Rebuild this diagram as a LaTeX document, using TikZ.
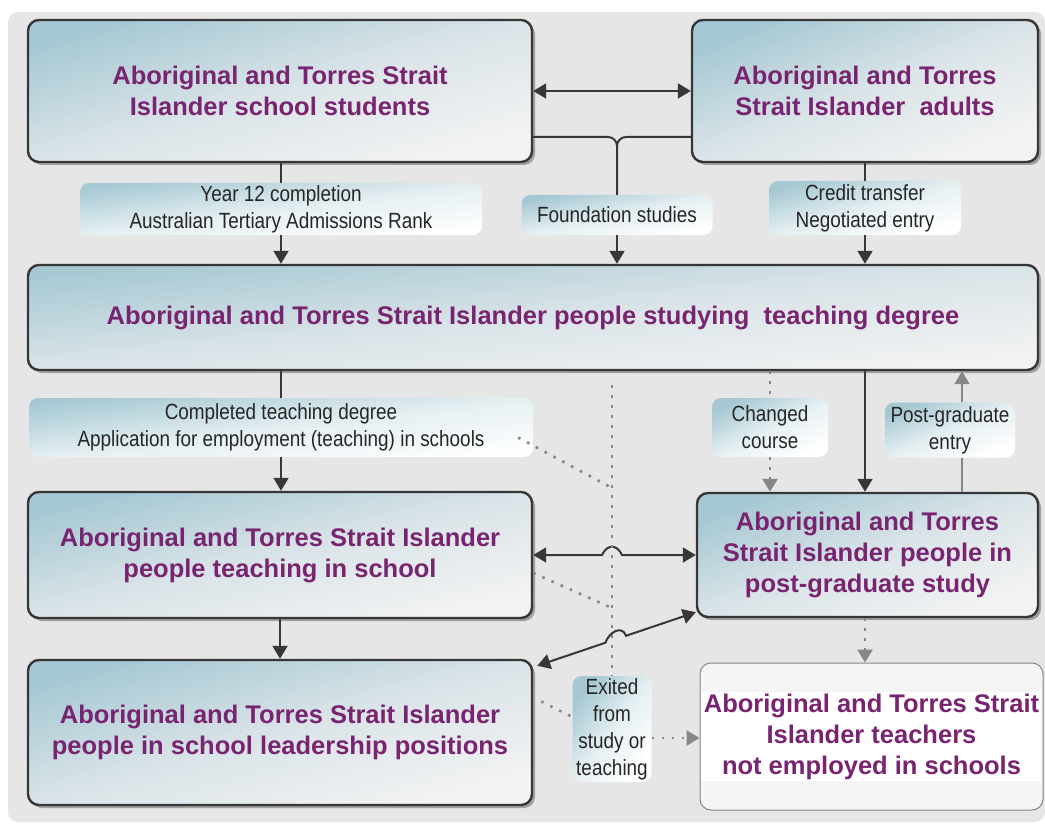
\documentclass[tikz,border=0pt]{standalone}
\usepackage{fontspec}
\setmainfont{Liberation Sans}
\newfontfamily\narrowfont[FakeStretch=0.86]{Liberation Sans}
\usetikzlibrary{arrows.meta,shadows,calc}
\definecolor{boxblue}{RGB}{166,200,211}
\definecolor{boxmid}{RGB}{218,228,232}
\definecolor{boxwhite}{RGB}{243,243,243}
\definecolor{titlepurple}{RGB}{120,36,112}
\definecolor{linedark}{RGB}{55,55,55}
\definecolor{linegray}{RGB}{135,135,135}
\definecolor{panelgray}{RGB}{230,230,230}
\tikzset{block/.style={draw=linedark,
                       line width=2.4pt,
                       rounded corners=11pt,
                       top color=boxblue, bottom color=boxwhite, middle color=boxmid, shading angle=#1,
                       drop shadow={shadow xshift=3pt, shadow yshift=-3pt, fill=black, opacity=0.3},
                       title},
         block/.default=15,
         plainblock/.style={draw=linegray, line width=1pt, rounded corners=11pt, fill=white!96!black},
         title/.style={text=titlepurple, align=center, inner sep=0pt,
                       font=\bfseries\fontsize{25.5}{31}\selectfont},
         tag/.style={rounded corners=9pt,
                     top color=boxblue, bottom color=white, middle color=boxblue!30!white, shading angle=#1,
                     text=black!85, align=center, inner sep=0pt,
                     font=\narrowfont\fontsize{22}{27}\selectfont},
         tag/.default=10,
         link/.style={line width=2pt, color=linedark},
         greylink/.style={line width=1.6pt, color=linegray},
         dotlink/.style={line width=2.6pt, color=linegray, dash pattern=on 2.6pt off 7.4pt}}
\begin{document}
\begin{tikzpicture}[x=1pt,y=-1pt,>={Triangle[length=13pt,width=15pt]}]
    \useasboundingbox (0,0) rectangle (1045,824);
    \fill [panelgray, rounded corners=10pt] (8,12) rectangle (1045,822);
    % We start by placing the blocks
    \node [block=16, minimum width=504pt, minimum height=142pt] (Students) at (280,91)
        {Aboriginal and Torres Strait\\Islander school students};
    \node [block=22, minimum width=346pt, minimum height=142pt] (Adults) at (865,91)
        {Aboriginal and Torres\\Strait Islander~ adults};
    \node [block=6, minimum width=1010pt, minimum height=105pt] (Degree) at (533,317.5)
        {Aboriginal and Torres Strait Islander people studying~ teaching degree};
    \node [block=14, minimum width=504pt, minimum height=126pt] (Teaching) at (280,555)
        {Aboriginal and Torres Strait Islander\\people teaching in school};
    \node [block=20, minimum width=341pt, minimum height=124pt] (PostGrad) at (867.5,555)
        {Aboriginal and Torres\\Strait Islander people in\\post-graduate study};
    \node [block=16, minimum width=504pt, minimum height=145pt] (Leaders) at (280,732.5)
        {Aboriginal and Torres Strait Islander\\people in school leadership positions};
    \node [plainblock, minimum width=343pt, minimum height=147pt] (NotEmployed) at (871.5,736.5) {};
    \node [title, fill=white, inner sep=2pt] (NotEmployedText) at (NotEmployed)
        {Aboriginal and Torres Strait\\Islander teachers\\not employed in schools};
    % the labels on the edges
    \node [tag=7, minimum width=402pt, minimum height=52pt] (Year12) at (281,209)
        {Year 12 completion\\Australian Tertiary Admissions Rank};
    \node [tag=12, minimum width=191pt, minimum height=40pt] (Foundation) at (617,215)
        {Foundation studies};
    \node [tag=16, minimum width=192pt, minimum height=54pt] (Credit) at (865,208)
        {Credit transfer\\Negotiated entry};
    \node [tag=7, minimum width=504pt, minimum height=59pt] (Completed) at (281,427.5)
        {Completed teaching degree\\Application for employment (teaching) in schools};
    \node [tag=27, minimum width=116pt, minimum height=59pt] (Changed) at (770,427.5)
        {Changed\\course};
    \node [tag=23, minimum width=130pt, minimum height=55pt] (PGEntry) at (950,430)
        {Post-graduate\\entry};
    \node [tag=53, minimum width=79pt, minimum height=106pt] (Exited) at (612,729)
        {Exited\\from\\study or\\teaching};
    \coordinate (fork) at (617,137);
    \coordinate (pgx) at (962,0);
    \coordinate (exittop) at (612,385);
    \coordinate (joinA) at (612,488);
    \coordinate (joinB) at (612,608);
    \coordinate (hopA) at (Teaching.east -| exittop);
    \coordinate (lowA) at ([xshift=4pt,yshift=-7pt]Leaders.north east);
    \coordinate (lowB) at ([yshift=6pt]PostGrad.south west);
    % We draw the edges between the blocks
    \draw [link,<->] (Students) -- (Adults);
    \draw [link] (Students.south -| Year12) -- (Year12);
    \draw [link,->] (Year12) -- (Year12 |- Degree.north);
    \draw [link] (Adults.south -| Credit) -- (Credit);
    \draw [link,->] (Credit) -- (Credit |- Degree.north);
    \draw [link] (Students.east |- fork) -- ([xshift=-9pt]fork) to[out=0,in=90] ([yshift=-9pt]fork) -- (Foundation);
    \draw [link] (Adults.west |- fork) -- ([xshift=9pt]fork) to[out=180,in=90] ([yshift=-9pt]fork);
    \draw [link,->] (Foundation) -- (Foundation |- Degree.north);
    \draw [link] (Degree.south -| Completed) -- (Completed);
    \draw [link,->] (Completed) -- (Completed |- Teaching.north);
    \draw [link,->] (Teaching) -- (Leaders);
    \draw [link,->] (Degree.south -| Adults) -- (PostGrad.north -| Adults);
    \draw [dotlink] (Degree.south -| Changed) -- (Changed);
    \draw [dotlink,->] (Changed) -- (Changed |- PostGrad.north);
    \draw [greylink] (PostGrad.north -| pgx) -- (PGEntry.south -| pgx);
    \draw [greylink,->] (PGEntry.north -| pgx) -- (Degree.south -| pgx);
    \draw [dotlink,->] (PostGrad.south -| Adults) -- (NotEmployed.north -| Adults);
    % moves between teaching, leadership and post-graduate study
    \draw [link,<->] (Teaching.east) -- ([xshift=-10pt]hopA)
        .. controls ([xshift=-5pt,yshift=11pt]hopA) and ([xshift=5pt,yshift=11pt]hopA) .. ([xshift=10pt]hopA)
        -- (PostGrad.west);
    \draw [link,<->] (lowA) -- ($(lowA)!0.43!(lowB)$)
        .. controls +(4pt,11pt) and +(-4pt,11pt) .. ($(lowA)!0.56!(lowB)$) -- (lowB);
    % the exits
    \draw [dotlink] (exittop) -- (Exited);
    \draw [dotlink] ([xshift=-15pt,yshift=-10pt]Completed.east) -- (joinA);
    \draw [dotlink] ([yshift=-18pt]Teaching.east) -- (joinB);
    \draw [dotlink] ([xshift=8pt,yshift=31pt]Leaders.east) -- ([yshift=12pt]Exited.west);
    \draw [dotlink,->] ([yshift=-9pt]Exited.east) -- ([yshift=-9pt]Exited.east -| NotEmployed.west);
\end{tikzpicture}
\end{document}
